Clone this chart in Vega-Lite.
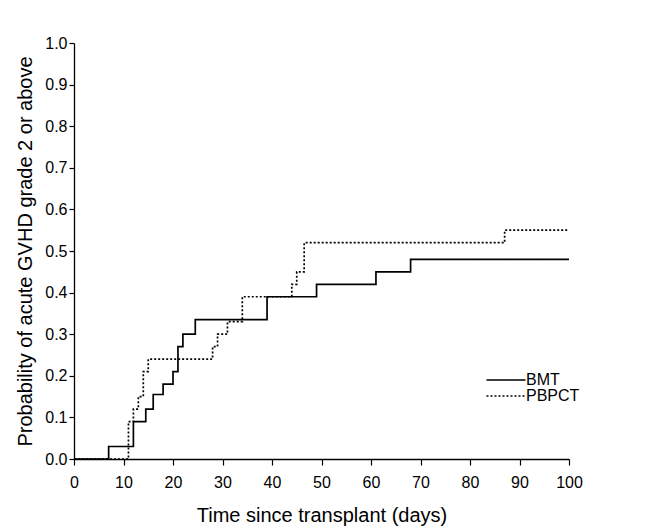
{
  "$schema": "https://vega.github.io/schema/vega-lite/v6.json",
  "width": 495,
  "height": 416,
  "autosize": "none",
  "padding": {"left": 74, "top": 43, "right": 79, "bottom": 73},
  "background": "white",
  "config": {
    "view": {"stroke": null},
    "font": "Liberation Sans",
    "axis": {"grid": false, "domainColor": "black", "tickColor": "black", "labelColor": "black", "titleColor": "black", "labelFont": "Liberation Sans", "titleFont": "Liberation Sans", "titleFontWeight": "normal", "domainWidth": 1.3, "tickWidth": 1.2}
  },
  "data": {
    "values": [
      {"day": 0, "p": 0, "group": "BMT"},
      {"day": 7, "p": 0.03, "group": "BMT"},
      {"day": 12, "p": 0.09, "group": "BMT"},
      {"day": 14.5, "p": 0.12, "group": "BMT"},
      {"day": 16, "p": 0.155, "group": "BMT"},
      {"day": 18, "p": 0.18, "group": "BMT"},
      {"day": 20, "p": 0.21, "group": "BMT"},
      {"day": 21, "p": 0.27, "group": "BMT"},
      {"day": 22, "p": 0.30, "group": "BMT"},
      {"day": 24.5, "p": 0.335, "group": "BMT"},
      {"day": 39, "p": 0.39, "group": "BMT"},
      {"day": 49, "p": 0.42, "group": "BMT"},
      {"day": 61, "p": 0.45, "group": "BMT"},
      {"day": 68, "p": 0.48, "group": "BMT"},
      {"day": 100, "p": 0.48, "group": "BMT"},
      {"day": 0, "p": 0, "group": "PBPCT"},
      {"day": 11, "p": 0.09, "group": "PBPCT"},
      {"day": 12, "p": 0.12, "group": "PBPCT"},
      {"day": 13, "p": 0.15, "group": "PBPCT"},
      {"day": 14, "p": 0.21, "group": "PBPCT"},
      {"day": 15, "p": 0.24, "group": "PBPCT"},
      {"day": 28, "p": 0.27, "group": "PBPCT"},
      {"day": 29, "p": 0.30, "group": "PBPCT"},
      {"day": 31, "p": 0.33, "group": "PBPCT"},
      {"day": 34, "p": 0.39, "group": "PBPCT"},
      {"day": 44, "p": 0.42, "group": "PBPCT"},
      {"day": 45, "p": 0.45, "group": "PBPCT"},
      {"day": 46.5, "p": 0.52, "group": "PBPCT"},
      {"day": 87, "p": 0.55, "group": "PBPCT"},
      {"day": 100, "p": 0.55, "group": "PBPCT"}
    ]
  },
  "mark": {"type": "line", "interpolate": "step-after", "color": "black", "strokeWidth": 1.7},
  "encoding": {
    "x": {"field": "day", "type": "quantitative", "scale": {"domain": [0, 100], "nice": false, "zero": true},
      "axis": {"values": [0,10,20,30,40,50,60,70,80,90,100], "title": "Time since transplant (days)", "labelFontSize": 16, "titleFontSize": 20, "tickSize": 6, "labelPadding": 9, "titlePadding": 15, "labelFlush": false}},
    "y": {"field": "p", "type": "quantitative", "scale": {"domain": [0, 1], "nice": false},
      "axis": {"values": [0,0.1,0.2,0.3,0.4,0.5,0.6,0.7,0.8,0.9,1.0], "format": ".1f", "title": "Probability of acute GVHD grade 2 or above", "labelFontSize": 16, "titleFontSize": 20, "tickSize": 5, "labelPadding": 2, "titlePadding": 9}},
    "strokeDash": {"field": "group", "type": "nominal", "scale": {"domain": ["BMT", "PBPCT"], "range": [[1, 0], [2, 2]]},
      "legend": {"title": null, "orient": "none", "legendX": 424, "legendY": 329, "symbolType": "M-3.9,0H3.9", "symbolSize": 100, "symbolStrokeColor": "black", "symbolStrokeWidth": 1.5, "labelFontSize": 16, "labelColor": "black", "labelOffset": 12, "rowPadding": 0, "labelFont": "Liberation Sans"}}
  }
}
